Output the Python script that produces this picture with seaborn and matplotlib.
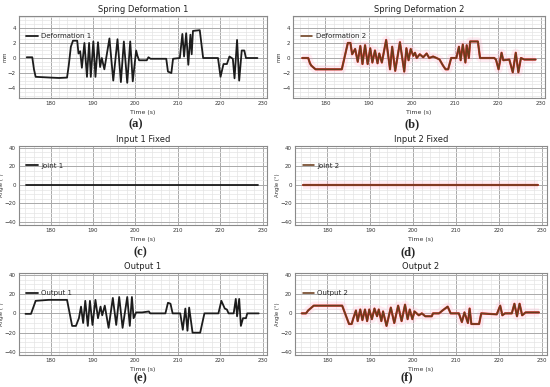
import numpy as np
import pandas as pd
import matplotlib
matplotlib.use("Agg")
import matplotlib.pyplot as plt
import seaborn as sns
from matplotlib.ticker import MultipleLocator

sns.set_theme(style="whitegrid")
plt.rcParams['font.family'] = ['DejaVu Sans']

# Spring deformation 1 (mm)
def1_t = [174.4, 175.7, 176.1, 176.5, 180.0, 182.0, 183.9, 184.3, 184.8, 185.3, 186.3, 186.6, 187.0, 187.4,
          188.0, 188.6, 189.1, 189.5, 190.1, 190.6, 191.2, 191.7, 192.1, 192.7, 193.9, 194.8, 195.8, 196.6,
          197.3, 198.1, 198.8, 199.4, 200.2, 200.5, 200.9, 202.7, 203.1, 203.6, 207.3, 207.7, 208.5, 208.9,
          210.5, 211.1, 211.5, 212.0, 212.5, 213.0, 213.3, 213.6, 215.2, 216.0, 219.5, 220.1, 220.8, 221.6,
          222.2, 223.0, 223.4, 224.0, 224.5, 225.1, 225.7, 226.1, 228.8]
def1_v = [0.1, 0.1, -1.5, -2.5, -2.6, -2.65, -2.6, -1.0, 1.5, 2.3, 2.3, 0.6, 0.9, -1.3,
          2.0, -2.5, 2.0, -2.5, 2.2, -2.5, 2.1, -1.2, 0.0, -1.5, 2.6, -3.0, 2.5, -3.2,
          2.2, -3.3, 2.2, -3.1, 1.0, 0.3, -0.3, -0.3, 0.1, -0.1, -0.1, -1.8, -2.0, -0.1,
          0.0, 3.2, 0.2, 3.3, -0.9, 3.1, 0.5, 3.6, 3.7, 0.0, 0.0, -2.5, -0.8, -0.8,
          0.2, -0.1, -2.7, 2.4, -3.0, 1.0, 1.0, 0.0, 0.0]

# Spring deformation 2 (mm)
def2_t = [174.6, 176.0, 176.4, 176.7, 177.7, 183.8, 185.2, 185.8, 186.2, 186.9, 187.5, 188.1, 188.6, 189.2,
          189.8, 190.4, 190.9, 191.5, 192.1, 192.5, 193.1, 194.1, 195.0, 195.5, 196.2, 197.3, 198.3, 198.8,
          199.3, 199.8, 200.4, 200.8, 201.2, 201.9, 202.7, 203.5, 204.1, 205.0, 205.8, 206.5, 207.3, 207.9,
          208.5, 209.2, 210.4, 211.0, 211.4, 211.9, 212.5, 212.8, 213.3, 213.6, 215.4, 215.9, 219.2, 219.6,
          220.2, 220.9, 221.3, 222.7, 223.5, 224.2, 224.8, 225.4, 226.2, 228.8]
def2_v = [0.0, 0.0, -0.7, -1.0, -1.5, -1.5, 2.0, 2.0, 0.5, 1.2, -0.5, 1.6, -0.8, 1.7,
          -0.8, 1.3, -0.6, 1.0, -0.7, 0.6, -0.6, 2.4, -1.5, 1.5, -1.7, 2.1, -1.8, 1.3,
          -0.3, 1.2, 0.3, 0.7, 0.0, 0.5, 0.1, 0.6, 0.0, 0.2, 0.0, -0.2, -1.0, -1.5,
          -1.5, 0.0, 0.0, 1.5, -0.3, 1.8, -0.6, 1.7, 0.0, 2.2, 2.2, 0.0, 0.0, -0.2,
          -1.5, 0.7, -0.3, -0.2, -1.9, 0.7, -1.9, 0.0, -0.2, -0.2]

# Fixed inputs (deg)
joint_t = [174.3, 229.0]
joint1_v = [0.0, 0.0]
joint2_v = [0.0, 0.0]

# Output 1 (deg)
out1_t = [174.1, 175.4, 176.5, 179.6, 183.9, 185.1, 186.0, 186.7, 187.2, 187.7, 188.2, 188.8, 189.3, 189.9,
          190.6, 191.2, 191.8, 192.2, 192.8, 193.7, 194.7, 195.5, 196.2, 197.0, 198.1, 198.7, 199.2, 199.6,
          200.2, 201.6, 203.2, 203.5, 207.1, 207.7, 208.3, 208.8, 210.6, 211.2, 211.8, 212.3, 212.7, 213.5,
          215.3, 216.3, 219.6, 220.3, 221.1, 221.6, 222.0, 223.2, 223.7, 224.0, 224.5, 224.9, 225.4, 226.1,
          226.4, 229.1]
out1_v = [-0.5, -0.5, 13, 14, 14, -13, -13, -5, 7, -10, 13, -13, 13, -12,
          14, -5, 7, -2, 8, -15, 16, -12, 17, -15, 17, -13, 17, -5,
          1, 1, 2, 0, 0, 11, 10, 0, 0, -17, 5, -18, 6, -20,
          -20, 0, 0, 13, 5, 4, 0, 0, 15, -3, 15, -13, -5, -5,
          0, 0]

# Output 2 (deg)
out2_t = [174.1, 175.1, 175.6, 176.9, 183.5, 185.1, 185.7, 186.1, 186.7, 187.1, 187.7, 188.2, 188.8, 189.3,
          189.8, 190.4, 191.0, 191.6, 192.0, 192.6, 193.0, 193.8, 194.8, 195.6, 196.5, 197.3, 198.1, 198.7,
          199.2, 199.8, 200.3, 201.3, 202.0, 202.8, 204.3, 204.6, 206.0, 206.8, 208.0, 208.7, 210.6, 211.3,
          211.9, 212.7, 213.1, 213.5, 215.3, 215.8, 219.4, 220.2, 220.7, 221.3, 222.9, 223.5, 224.1, 224.7,
          225.3, 226.1, 229.2]
out2_v = [0, 0, 3, 8, 8, -11, -11, -5, 3, -8, 4, -7, 4, -8,
          4, -6, 5, -3, 4, -8, 2, -13, 6, -10, 8, -8, 9, -6,
          4, -6, 2, -2, 0, -3, -3, 0, 0, 3, 7, 0, 0, -9,
          1, -10, 5, -11, -11, 0, -1, 8, -2, 0, 0, 10, -3, 10,
          -2, 1, 1]

x_ticks = [180, 190, 200, 210, 220, 230]
mm_ticks = [-4, -2, 0, 2, 4]
deg_ticks = [-40, -20, 0, 20, 40]

BLACK = '#1c1c1c'
BROWN = '#6a3c1c'
RED = '#e23030'

fig = plt.figure(figsize=(5.5, 3.87), dpi=100)


def draw(rect, t, v, title, name, ylabel, yticks, ylim, yminor, red):
    ax = fig.add_axes(rect)
    df = pd.DataFrame({'t': t, 'v': v})
    if red:
        ax.plot(df['t'], df['v'], color='#ff9fc0', lw=6, alpha=0.18, solid_capstyle='butt')
        sns.lineplot(data=df, x='t', y='v', ax=ax, color=RED, lw=1.6, estimator=None, sort=False)
        sns.lineplot(data=df, x='t', y='v', ax=ax, color=BROWN, lw=1.15, estimator=None, sort=False,
                     label=name)
    else:
        sns.lineplot(data=df, x='t', y='v', ax=ax, color=BLACK, lw=1.3, estimator=None, sort=False,
                     label=name)
    ax.set_xlim(172.5, 231)
    ax.set_ylim(*ylim)
    ax.set_xticks(x_ticks)
    ax.set_yticks(yticks)
    ax.xaxis.set_minor_locator(MultipleLocator(2))
    ax.yaxis.set_minor_locator(MultipleLocator(yminor))
    ax.grid(which='major', color='#a9a9a9', lw=0.7)
    ax.grid(which='minor', color='#e4e4e4', lw=0.5)
    ax.set_axisbelow(True)
    for s in ax.spines.values():
        s.set_color('#8a8a8a')
        s.set_linewidth(0.8)
    ax.tick_params(labelsize=4, length=0, pad=2, colors='#333333')
    ax.set_title(title, fontsize=6, pad=3, color='#222222')
    ax.set_xlabel('Time (s)', fontsize=4.5, labelpad=1.5, color='#333333')
    ax.set_ylabel(ylabel, fontsize=3.8, labelpad=0.5, color='#333333')
    ax.legend(loc='center left', bbox_to_anchor=(0.02, 0.75), frameon=False, fontsize=5,
              handlelength=1.6, borderaxespad=0, handletextpad=0.5)
    return ax


draw([0.034, 0.747, 0.451, 0.212], def1_t, def1_v, 'Spring Deformation 1', 'Deformation 1', 'mm',
     mm_ticks, (-5.3, 5.6), 0.5, False)
draw([0.533, 0.747, 0.458, 0.212], def2_t, def2_v, 'Spring Deformation 2', 'Deformation 2', 'mm',
     mm_ticks, (-5.3, 5.6), 0.5, True)
draw([0.034, 0.419, 0.451, 0.204], joint_t, joint1_v, 'Input 1 Fixed', 'Joint 1', 'Angle (°)',
     deg_ticks, (-43, 42), 5, False)
draw([0.536, 0.419, 0.458, 0.204], joint_t, joint2_v, 'Input 2 Fixed', 'Joint 2', 'Angle (°)',
     deg_ticks, (-43, 42), 5, True)
draw([0.034, 0.083, 0.451, 0.212], out1_t, out1_v, 'Output 1', 'Output 1', 'Angle (°)',
     deg_ticks, (-43, 42), 5, False)
draw([0.536, 0.083, 0.458, 0.212], out2_t, out2_v, 'Output 2', 'Output 2', 'Angle (°)',
     deg_ticks, (-43, 42), 5, True)

lab = dict(fontsize=9, fontweight='bold', family='Liberation Serif', ha='center', va='center')
fig.text(136 / 550, 1 - 124 / 387, '(a)', **lab)
fig.text(412 / 550, 1 - 124 / 387, '(b)', **lab)
fig.text(140 / 550, 1 - 252 / 387, '(c)', **lab)
fig.text(408 / 550, 1 - 252 / 387, '(d)', **lab)
fig.text(140 / 550, 1 - 378 / 387, '(e)', **lab)
fig.text(407 / 550, 1 - 377 / 387, '(f)', **lab)

fig.savefig('out.png', dpi=100, facecolor='white')
